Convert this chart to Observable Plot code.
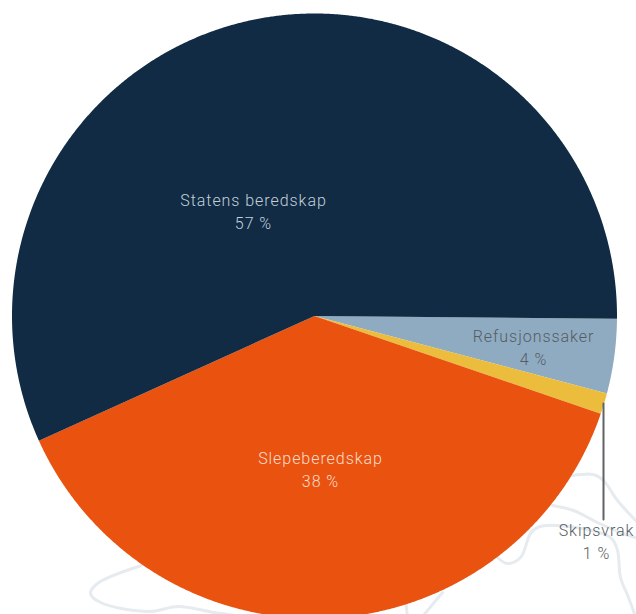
<!DOCTYPE html>
<html><head><meta charset="utf-8">
<script src="https://cdn.jsdelivr.net/npm/d3@7"></script>
<script src="https://cdn.jsdelivr.net/npm/@observablehq/plot@0.6"></script>
<style>html,body{margin:0;padding:0;background:#fff;overflow:hidden}svg{display:block}</style>
</head><body><div id="chart"></div>
<script>
const W = 636, H = 614;
const categories = ["Refusjonssaker", "Skipsvrak", "Slepeberedskap", "Statens beredskap"];
const shares = [3.98, 1.12, 38.0, 56.9];
const colors = ["#8fabc2", "#ecbc3c", "#e9530f", "#102b43"];
const shareLabels = ["4 %", "1 %", "38 %", "57 %"];
const labelX = [533, 596, 320, 253];
const labelY = [336, 530, 458, 200];
const labelFill = ["#555d63", "#555d63", "#fbdccb", "#c3cfda"];
const leader = [{x: 603, y: 403}, {x: 603, y: 519}];
const center = {x: 314, y: 315.5};
const radius = 302.5;
const firstSliceAngle = 90.5;
const contours = [
  [[141,565],[97,583],[90,593],[100,602],[148,611],[178,606],[214,612],[244,616]],
  [[405,600],[407,616]],
  [[442,592],[422,616]],
  [[497,557],[507,563],[520,557],[530,533],[537,527],[557,525],[610,537],[617,550],[620,577],[628,597],[635,616]],
  [[552,505],[573,510],[597,522],[620,532],[638,538]],
  [[572,475],[593,474],[603,480],[617,500],[638,523]]
];

const rad = d => d * Math.PI / 180;
const pie = d3.pie().sort(null).startAngle(rad(firstSliceAngle)).endAngle(rad(firstSliceAngle + 360));
const slicePoints = pie(shares).flatMap((s, i) => {
  const n = Math.ceil((s.endAngle - s.startAngle) / rad(0.25));
  const pts = [{name: categories[i], x: center.x, y: center.y}];
  for (let k = 0; k <= n; ++k) {
    const a = s.startAngle + (s.endAngle - s.startAngle) * k / n;
    pts.push({name: categories[i], x: center.x + radius * Math.sin(a), y: center.y - radius * Math.cos(a)});
  }
  return pts;
});
const contourPoints = contours.flatMap((c, i) => c.map(([x, y]) => ({id: i, x, y})));
const labels = categories.flatMap((c, i) => [
  {text: c, x: labelX[i], y: labelY[i], fill: labelFill[i]},
  {text: shareLabels[i], x: labelX[i], y: labelY[i] + 23, fill: labelFill[i]}
]);

const plot = Plot.plot({
  width: W, height: H, margin: 0,
  style: {background: "#fff", fontFamily: "Roboto, sans-serif"},
  x: {domain: [0, W], range: [0, W], axis: null},
  y: {domain: [0, H], range: [0, H], axis: null},
  color: {domain: categories, range: colors},
  marks: [
    Plot.line(contourPoints, {x: "x", y: "y", z: "id", stroke: "#e6ebef", strokeWidth: 3, curve: "catmull-rom"}),
    Plot.line(slicePoints, {x: "x", y: "y", z: "name", fill: "name", stroke: "none", curve: "linear"}),
    Plot.line(leader, {x: "x", y: "y", stroke: "#5f6367", strokeWidth: 2}),
    Plot.text(labels, {x: "x", y: "y", text: "text", fill: d => d.fill, fontSize: 16, fontWeight: 300, textAnchor: "middle"})
  ]
});
plot.querySelectorAll("text").forEach(t => t.style.letterSpacing = "0.95px");
document.getElementById("chart").appendChild(plot);
</script></body></html>
